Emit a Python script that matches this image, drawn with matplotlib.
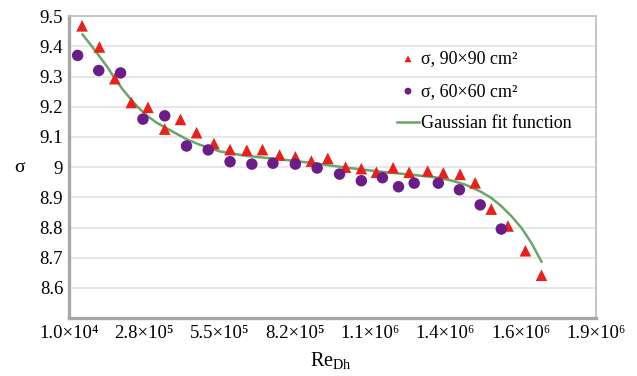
import numpy as np
import matplotlib
matplotlib.use("Agg")
from matplotlib import pyplot as plt
from matplotlib.ticker import FixedLocator, FuncFormatter

plt.rcParams['font.family'] = ['Liberation Serif', 'DejaVu Serif']
plt.rcParams['mathtext.fontset'] = 'custom'
plt.rcParams['mathtext.rm'] = 'Liberation Serif'
plt.rcParams['mathtext.it'] = 'Liberation Serif:italic'

# sigma, 90x90 cm^2 (red triangles)
re_90 = [57500, 119800, 174900, 233900, 293700, 353800, 410300, 467900, 530200,
         587800, 647900, 704100, 765300, 821800, 879400, 938100, 1001800, 1058300,
         1112300, 1172100, 1229700, 1295900, 1352100, 1412200, 1466200, 1523800,
         1583900, 1646200, 1703800]
sigma_90 = [9.468, 9.398, 9.293, 9.214, 9.198, 9.126, 9.158, 9.114, 9.078,
            9.058, 9.056, 9.058, 9.040, 9.034, 9.020, 9.029, 9.000, 8.995,
            8.983, 8.998, 8.983, 8.987, 8.981, 8.976, 8.948, 8.861,
            8.805, 8.723, 8.642]

# sigma, 60x60 cm^2 (purple circles)
re_60 = [41700, 117300, 195400, 275700, 353800, 431900, 509700, 587800, 665900,
         741500, 821800, 899900, 980200, 1058300, 1133900, 1191500, 1247700,
         1334100, 1409700, 1484200, 1559800]
sigma_60 = [9.370, 9.320, 9.312, 9.159, 9.170, 9.070, 9.057, 9.018, 9.010,
            9.013, 9.010, 8.997, 8.977, 8.955, 8.965, 8.935, 8.947,
            8.947, 8.925, 8.875, 8.795]

# Gaussian fit curve
re_fit = [59700, 91000, 119800, 148600, 173800, 202600, 233900, 263800, 293700,
          325000, 359900, 397000, 437700, 479800, 551800, 647900, 767800, 887700,
          1007900, 1127800, 1235800, 1325800, 1379800, 1433800, 1487800, 1523800,
          1559800, 1595800, 1631800, 1667800, 1703800]
sigma_fit = [9.439, 9.402, 9.367, 9.331, 9.295, 9.258, 9.223, 9.193, 9.168,
             9.147, 9.129, 9.110, 9.090, 9.074, 9.052, 9.037, 9.026, 9.013,
             8.998, 8.985, 8.975, 8.966, 8.956, 8.941, 8.918, 8.898,
             8.871, 8.838, 8.799, 8.749, 8.687]

xticks = [1.0e4, 2.8e5, 5.5e5, 8.2e5, 1.09e6, 1.36e6, 1.63e6, 1.9e6]
sup = str.maketrans('0123456789', '⁰¹²³⁴⁵⁶⁷⁸⁹')


def sci_fmt(v, pos):
    e = int(np.floor(np.log10(v)))
    m = v / 10 ** e
    return '%.1f×10%s' % (m, str(e).translate(sup))


def y_fmt(v, pos):
    if abs(v - 9) < 1e-6:
        return '9'
    return '%.1f' % v


fig = plt.figure(figsize=(6.37, 3.76), dpi=100)
ax = fig.add_axes([0.108, 0.154, 0.828, 0.803])

ax.plot(re_fit, sigma_fit, color='#6aa56a', lw=1.8, label='Gaussian fit function', zorder=2)
ax.scatter(re_90, sigma_90, marker='^', s=70, color='#e8221b', edgecolors='none',
           label='σ, 90×90 cm²', zorder=3)
ax.scatter(re_60, sigma_60, marker='o', s=68, color='#6b1c86', edgecolors='none',
           label='σ, 60×60 cm²', zorder=3)

ax.set_xlim(1.0e4, 1.9e6)
ax.set_ylim(8.5, 9.5)
ax.xaxis.set_major_locator(FixedLocator(xticks))
ax.xaxis.set_major_formatter(FuncFormatter(sci_fmt))
ax.set_yticks(np.arange(8.6, 9.51, 0.1))
ax.yaxis.set_major_formatter(FuncFormatter(y_fmt))
ax.tick_params(length=0, labelsize=13.5)
ax.tick_params(axis='y', pad=4)
ax.tick_params(axis='x', pad=5)

ax.grid(axis='y', color='#e3e3e3', lw=1.2)
ax.set_axisbelow(True)
for s in ['top', 'right']:
    ax.spines[s].set_color('#c0c0c0')
    ax.spines[s].set_linewidth(1.3)
for s in ['left', 'bottom']:
    ax.spines[s].set_color('#a8a8a8')
    ax.spines[s].set_linewidth(2.4)

ax.set_ylabel('σ', fontsize=14, rotation=0, va='center', ha='center')
ax.yaxis.set_label_coords(-0.093, 0.5)
ax.set_xlabel(r'$\mathrm{Re}_{\mathrm{Dh}}$', fontsize=14.5, va='center')
ax.xaxis.set_label_coords(0.497, -0.14)

h, l = ax.get_legend_handles_labels()
leg = ax.legend([h[1], h[2], h[0]], [l[1], l[2], l[0]], loc='upper right',
                bbox_to_anchor=(0.985, 0.94), frameon=False, fontsize=13,
                labelspacing=0.85, handlelength=1.25, handletextpad=0.12,
                markerscale=0.6)

fig.savefig('out.png', dpi=100)
